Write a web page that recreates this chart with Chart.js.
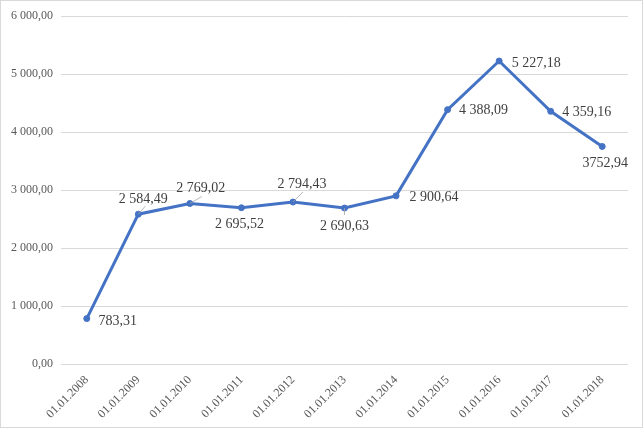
<!DOCTYPE html>
<html><head><meta charset="utf-8">
<script src="https://cdn.jsdelivr.net/npm/chart.js@4"></script>
<style>
html,body{margin:0;padding:0;background:#fff}
#wrap{width:643px;height:428px;box-sizing:border-box;border:1px solid #d9d9d9;position:relative;background:#fff}
canvas{display:block}
</style></head>
<body><div id="wrap"><canvas id="c" width="641" height="426"></canvas></div>
<script>
const categories = ['01.01.2008','01.01.2009','01.01.2010','01.01.2011','01.01.2012','01.01.2013','01.01.2014','01.01.2015','01.01.2016','01.01.2017','01.01.2018'];
const values = [783.31, 2584.49, 2769.02, 2695.52, 2794.43, 2690.63, 2900.64, 4388.09, 5227.18, 4359.16, 3752.94];
const valueLabels = ['783,31','2 584,49','2 769,02','2 695,52','2 794,43','2 690,63','2 900,64','4 388,09','5 227,18','4 359,16','3752,94'];
const yMin = 0, yMax = 6000, yStep = 1000;

// label placement (offset of label centre from point, optional leader line end)
const labelLayout = [
  {dx:31, dy:3},
  {dx:5, dy:-15, lx:7, ly:-8},
  {dx:11, dy:-15, lx:12, ly:-7},
  {dx:-2, dy:17},
  {dx:9, dy:-18, lx:10, ly:-10},
  {dx:0, dy:18, lx:0, ly:7},
  {dx:38, dy:1},
  {dx:36, dy:1},
  {dx:37, dy:2},
  {dx:36, dy:1},
  {dx:3, dy:17}
];

function fmt(v){
  const s = Number(v).toFixed(2).replace('.', ',');
  const parts = s.split(',');
  parts[0] = parts[0].replace(/\B(?=(\d{3})+(?!\d))/g, ' ');
  return parts.join(',');
}

const dataLabelPlugin = {
  id: 'dataLabels',
  afterDatasetsDraw(chart){
    const ctx = chart.ctx;
    const meta = chart.getDatasetMeta(0);
    ctx.save();
    meta.data.forEach((pt, i) => {
      const L = labelLayout[i] || {dx:0, dy:-15};
      if (L.lx !== undefined){
        ctx.strokeStyle = '#a6a6a6';
        ctx.lineWidth = 0.8;
        ctx.beginPath();
        ctx.moveTo(pt.x, pt.y);
        ctx.lineTo(pt.x + L.lx, pt.y + L.ly);
        ctx.stroke();
      }
      ctx.font = '14px "Liberation Serif", "Times New Roman", serif';
      ctx.fillStyle = '#404040';
      ctx.textAlign = 'center';
      ctx.textBaseline = 'middle';
      ctx.fillText(valueLabels[i], pt.x + L.dx, pt.y + L.dy);
    });
    ctx.restore();
  }
};

new Chart(document.getElementById('c'), {
  type: 'line',
  data: {
    labels: categories,
    datasets: [{
      data: values,
      borderColor: '#4472C4',
      backgroundColor: '#4472C4',
      borderWidth: 3,
      pointRadius: 3,
      pointBorderWidth: 1,
      pointHoverRadius: 3,
      pointBackgroundColor: '#4472C4',
      pointBorderColor: '#4472C4',
      tension: 0,
      fill: false
    }]
  },
  options: {
    responsive: false,
    animation: false,
    events: [],
    layout: { padding: { top: 13, right: 14, left: 0, bottom: 0 } },
    plugins: { legend: { display: false }, tooltip: { enabled: false } },
    scales: {
      x: {
        offset: true,
        grid: { display: false, drawTicks: false },
        border: { display: false },
        ticks: {
          color: '#595959',
          font: { family: '"Liberation Serif", "Times New Roman", serif', size: 12 },
          minRotation: 45, maxRotation: 45,
          padding: 9,
          autoSkip: false
        },
        afterFit(s){ s.height = 63; }
      },
      y: {
        min: yMin, max: yMax,
        grid: { color: '#d9d9d9', lineWidth: 1, drawTicks: false },
        border: { display: false },
        ticks: {
          stepSize: yStep,
          color: '#595959',
          font: { family: '"Liberation Serif", "Times New Roman", serif', size: 12 },
          padding: 8,
          callback: (v) => fmt(v)
        },
        afterFit(s){ s.width = 60; }
      }
    }
  },
  plugins: [dataLabelPlugin]
});
</script>
</body></html>
